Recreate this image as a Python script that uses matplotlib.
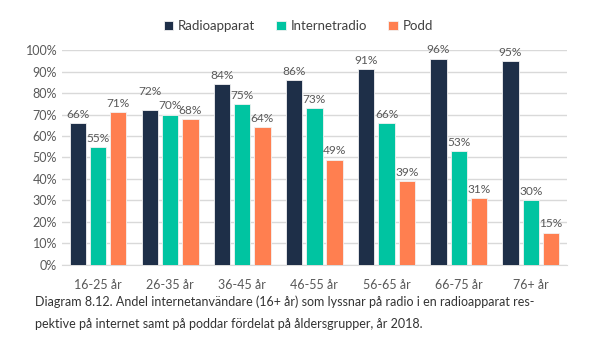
import numpy as np
import matplotlib.pyplot as plt
from matplotlib.ticker import FuncFormatter

plt.rcParams['font.family'] = ['Lato', 'DejaVu Sans']

groups = ['16-25 år', '26-35 år', '36-45 år', '46-55 år', '56-65 år', '66-75 år', '76+ år']
radioapparat = [66, 72, 84, 86, 91, 96, 95]
internetradio = [55, 70, 75, 73, 66, 53, 30]
podd = [71, 68, 64, 49, 39, 31, 15]
series_names = ['Radioapparat', 'Internetradio', 'Podd']
colors = ['#1e2f48', '#00c4a1', '#ff7f50']

fig = plt.figure(figsize=(5.91, 3.45), dpi=100)
ax = fig.add_axes([0.105, 0.232, 0.854, 0.623])

x = np.arange(len(groups))
w = 0.225
step = 0.28
txt = '#595959'
for i, (vals, name, c) in enumerate(zip([radioapparat, internetradio, podd], series_names, colors)):
    pos = x + (i - 1) * step
    ax.bar(pos, vals, w, color=c, edgecolor='#f2f2f2', linewidth=0.6, label=name, zorder=3)
    for j, (p, v) in enumerate(zip(pos, vals)):
        # lift the 26-35 radio label clear of its neighbours
        lift = 6 if (i == 0 and j == 1) else 1.5
        ax.text(p, v + lift, f'{v}%', ha='center', va='bottom', fontsize=8.6, color=txt, zorder=4)

ax.set_xlim(-0.5, len(groups) - 0.5)
ax.set_ylim(0, 100)
ax.set_yticks(range(0, 101, 10))
ax.yaxis.set_major_formatter(FuncFormatter(lambda v, _: f'{int(v)}%'))
ax.set_xticks(x)
ax.set_xticklabels(groups)
ax.tick_params(axis='both', length=0, labelsize=9, colors=txt)
ax.tick_params(axis='x', pad=10)
ax.grid(axis='y', color='#d9d9d9', linewidth=1, zorder=0)
for s in ['top', 'right', 'left']:
    ax.spines[s].set_visible(False)
ax.spines['bottom'].set_color('#d9d9d9')

fig.legend(loc='center', bbox_to_anchor=(0.505, 0.925), ncol=3, frameon=False,
           fontsize=9.5, handlelength=0.7, handleheight=0.7, handletextpad=0.4,
           columnspacing=1.6, labelcolor='#404040')

fig.text(0.059, 0.125, 'Diagram 8.12. Andel internetanvändare (16+ år) som lyssnar på radio i en radioapparat res-',
         fontsize=9, color='#333333', va='center')
fig.text(0.059, 0.06, 'pektive på internet samt på poddar fördelat på åldersgrupper, år 2018.',
         fontsize=9, color='#333333', va='center')

fig.savefig('out.png', dpi=100)
